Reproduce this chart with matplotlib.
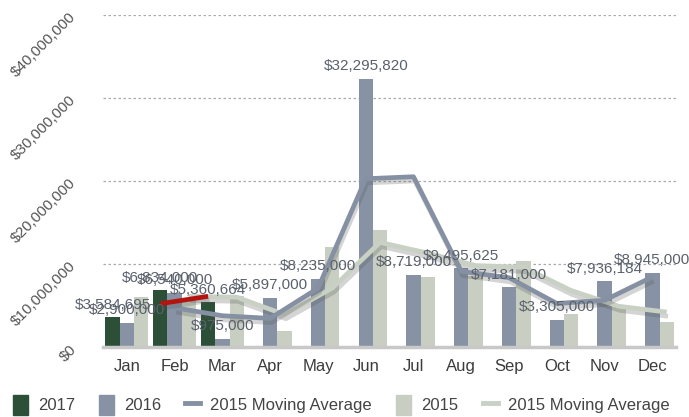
import matplotlib
matplotlib.use("Agg")
import matplotlib.pyplot as plt
import matplotlib.patheffects as pe
from matplotlib.patches import Patch
from matplotlib.lines import Line2D
from matplotlib.ticker import FuncFormatter

plt.rcParams['font.family'] = ['Liberation Sans', 'DejaVu Sans']

months = ["Jan", "Feb", "Mar", "Apr", "May", "Jun", "Jul", "Aug", "Sep", "Oct", "Nov", "Dec"]

sales_2017 = [3584695, 6834000, 5360664]
sales_2016 = [2900000, 6540000, 975000, 5897000, 8235000, 32295820,
              8719000, 9495625, 7181000, 3305000, 7936184, 8945000]
sales_2015 = [6000000, 5900000, 6100000, 1900000, 12100000, 14100000,
              8400000, 8600000, 10400000, 4000000, 4800000, 3000000]

# moving averages as drawn (starting at Feb)
ma_2017 = [5210000, 6100000]
ma_2016 = [4720000, 3760000, 3440000, 7070000, 20270000, 20510000,
           9110000, 8340000, 5240000, 5620000, 8440000]
ma_2015 = [6100000, 6000000, 3900000, 7100000, 12600000, 11300000,
           9800000, 9600000, 6800000, 4900000, 4200000]

c2017 = "#2b4f37"
c2016 = "#8793a4"
c2015 = "#c8cfc2"
cma16 = "#8591a3"
cma15 = "#c9d0c4"
cred = "#b3140f"
txt = "#5a616c"

fig = plt.figure(figsize=(6.89, 4.17), dpi=100)
ax = fig.add_axes([0.1495, 0.168, 0.832, 0.796])

w = 0.3
x = list(range(12))
x17 = [i - w for i in range(len(sales_2017))]
x16 = x
x15 = [i + w for i in x]

ax.bar(x17, sales_2017, width=w, color=c2017, zorder=2)
ax.bar(x16, sales_2016, width=w, color=c2016, zorder=2)
ax.bar(x15, sales_2015, width=w, color=c2015, zorder=2)

shadow = [pe.SimpleLineShadow(offset=(1, -3), alpha=0.25, shadow_color="#555555"), pe.Normal()]
ax.plot(x15[1:], ma_2015, color=cma15, lw=3.4, zorder=3, path_effects=shadow, solid_capstyle="butt")
ax.plot(x16[1:], ma_2016, color=cma16, lw=3.4, zorder=4, path_effects=shadow, solid_capstyle="butt")
ax.plot(x17[1:], ma_2017, color=cred, lw=3.4, zorder=5, path_effects=shadow, solid_capstyle="butt")

for xi, v in zip(x17, sales_2017):
    ax.annotate("${:,}".format(v), (xi, v), xytext=(0, 4), textcoords="offset points",
                ha="center", va="bottom", fontsize=11, color=txt, zorder=6)
for xi, v in zip(x16, sales_2016):
    ax.annotate("${:,}".format(v), (xi, v), xytext=(0, 4), textcoords="offset points",
                ha="center", va="bottom", fontsize=11, color=txt, zorder=6)

ax.set_xlim(-0.5, 11.5)
ax.set_ylim(0, 40000000)
ax.set_yticks([0, 10000000, 20000000, 30000000, 40000000])
ax.yaxis.set_major_formatter(FuncFormatter(lambda v, p: "${:,.0f}".format(v)))
ax.set_xticks(x)
ax.set_xticklabels(months)

ax.grid(axis="y", linestyle=(0, (2, 2)), color="#aaaaaa", lw=0.9, zorder=0)
for s in ["top", "right", "left"]:
    ax.spines[s].set_visible(False)
ax.spines["bottom"].set_color("#c8c8c8")
ax.spines["bottom"].set_linewidth(2.5)
ax.tick_params(axis="both", length=0)
ax.tick_params(axis="x", labelsize=12, labelcolor="#3c3c3c", pad=9)
ax.tick_params(axis="y", labelsize=11, labelcolor="#555555", pad=21)
for lab in ax.get_yticklabels():
    lab.set_rotation(45)
    lab.set_rotation_mode("anchor")
    lab.set_ha("right")
    lab.set_va("center")

handles = [
    Patch(color=c2017),
    Patch(color=c2016),
    Line2D([], [], color=cma16, lw=3.5),
    Patch(color=c2015),
    Line2D([], [], color=cma15, lw=3.5),
]
labels = ["2017", "2016", "2015 Moving Average", "2015", "2015 Moving Average"]
fig.legend(handles, labels, loc="lower center", bbox_to_anchor=(0.495, -0.03), ncol=5,
           frameon=False, fontsize=12, handlelength=0.9, handleheight=1.4,
           handletextpad=0.6, columnspacing=1.45, labelcolor="#444444")

fig.savefig("out.png", dpi=100)
